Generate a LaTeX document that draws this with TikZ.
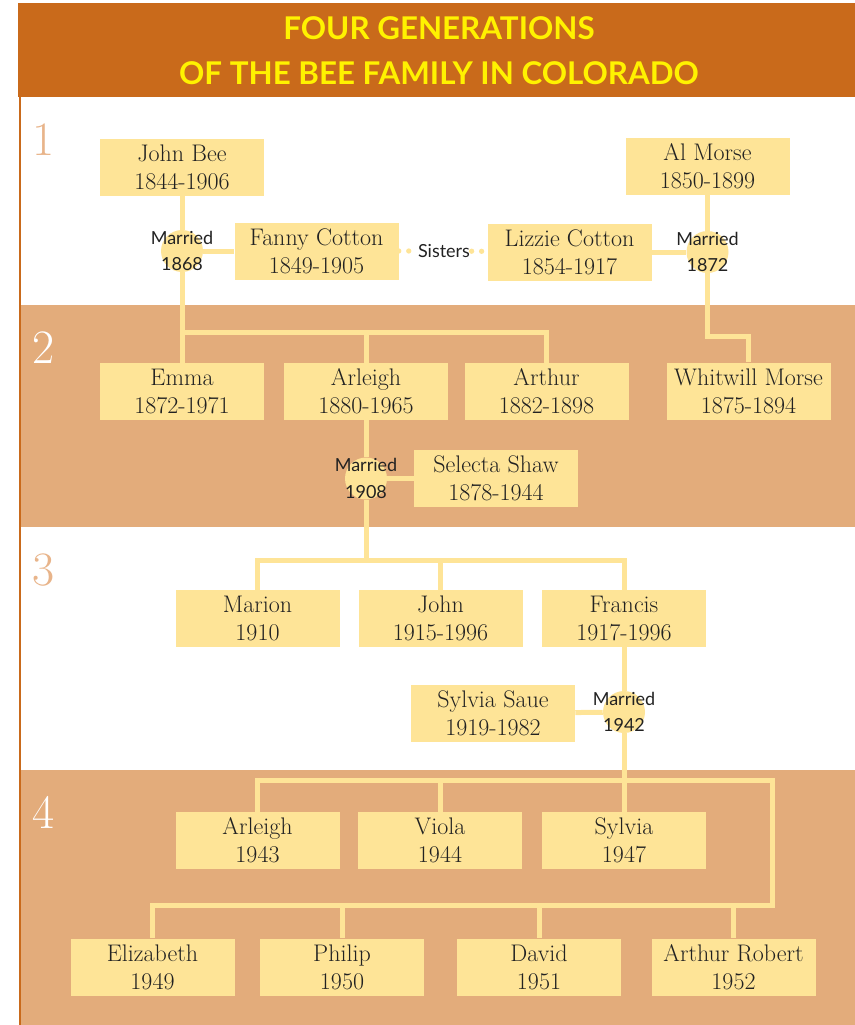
\documentclass[tikz,border=0pt]{standalone}
\usepackage{fontspec}
\newfontfamily\headfont{Lato}
\definecolor{header}{HTML}{C96A1B}
\definecolor{band}{HTML}{E3AC7B}
\definecolor{card}{HTML}{FEE497}
\definecolor{ink}{HTML}{222222}
\definecolor{gold}{HTML}{FFF200}
\definecolor{numtan}{HTML}{E8B48A}
\pgfdeclarelayer{bands}
\pgfdeclarelayer{links}
\pgfsetlayers{bands,links,main}
\tikzset{
  person/.style={fill=card, minimum width=123pt, minimum height=42.75pt, inner sep=0pt,
                 align=center, text=ink, font=\fontsize{18}{21}\selectfont},
  wed/.style={circle, fill=card, minimum size=31.5pt, inner sep=0pt},
  wedtxt/.style={align=center, text=ink, inner sep=1pt, font=\headfont\fontsize{13.5}{20}\selectfont},
  link/.style={draw=card, line width=3.75pt},
  sislink/.style={draw=card, line width=4pt, line cap=round, dash pattern=on 0pt off 7.5pt},
  gennum/.style={anchor=base west, inner sep=0pt, font=\fontsize{36}{36}\selectfont}
}

\begin{document}
\begin{tikzpicture}[x=0.75pt,y=-0.75pt]
  \useasboundingbox (0,0) rectangle (855,1025);
  \begin{pgfonlayer}{bands}
    \fill[header] (18,3) rectangle (855,97);
    \fill[band] (20,305) rectangle (855,527);
    \fill[band] (20,770) rectangle (855,1025);
    \draw[header, line width=1.5pt] (19.5,97) -- (19.5,1025);
  \end{pgfonlayer}
  \node[text=gold, align=center, font=\headfont\bfseries\fontsize{23.5}{34}\selectfont]
    (title) at (439,51) {FOUR GENERATIONS\\OF THE BEE FAMILY IN COLORADO};

  \foreach \g/\y/\col in {1/155/numtan, 2/363/white, 3/585/numtan, 4/828/white}
    \node[gennum, text=\col] (gen\g) at (32,\y) {\g};

  \foreach \n/\x/\y/\nm/\yr in {
    johnbee/182/167.5/{John Bee}/{1844-1906},
    almorse/707.5/166.5/{Al Morse}/{1850-1899},
    fanny/316.5/251/{Fanny Cotton}/{1849-1905},
    lizzie/569.5/252/{Lizzie Cotton}/{1854-1917},
    emma/182/391.5/{Emma}/{1872-1971},
    arleigh/366/391.5/{Arleigh}/{1880-1965},
    arthur/546.5/391.5/{Arthur}/{1882-1898},
    whitwill/748.5/391/{Whitwill Morse}/{1875-1894},
    selecta/496/478.5/{Selecta Shaw}/{1878-1944},
    marion/257.5/618.5/{Marion}/{1910},
    john/440.5/618.5/{John}/{1915-1996},
    francis/624/618.5/{Francis}/{1917-1996},
    sylviasaue/493/713.5/{Sylvia Saue}/{1919-1982},
    arleighjr/257.5/840.5/{Arleigh}/{1943},
    viola/440/840.5/{Viola}/{1944},
    sylvia/624/840.5/{Sylvia}/{1947},
    elizabeth/152.5/967/{Elizabeth}/{1949},
    philip/342/967/{Philip}/{1950},
    david/539/967/{David}/{1951},
    arthurrob/733.5/967/{Arthur Robert}/{1952}} {
    \node[person] (\n) at (\x,\y) {\nm\\\yr};
  }

  \foreach \n/\x/\y/\yr in {m1868/182/251/1868, m1872/707.5/252/1872,
                            m1908/366/478.5/1908, m1942/624/712/1942}
    \node[wed, label={[wedtxt]center:{Married\\\yr}}] (\n) at (\x,\y) {};

  \node[wedtxt] (sisters) at (444,251) {Sisters};

  \coordinate (g2bar) at (182,332);
  \coordinate (whitbend) at (707.5,336);
  \coordinate (g3bar) at (366,560);
  \coordinate (g4top) at (772,780);
  \coordinate (g4low) at (772,905);

  \begin{pgfonlayer}{links}
    \draw[sislink] (fanny) -- (sisters);
    \draw[sislink] (sisters) -- (lizzie);
    \draw[link] (johnbee) -- (m1868) -- (emma);
    \draw[link] (fanny) -- (m1868);
    \draw[link] (g2bar) -| (arthur);
    \draw[link] (arleigh |- g2bar) -- (arleigh);
    \draw[link] (almorse) -- (m1872);
    \draw[link] (lizzie) -- (m1872);
    \draw[link] (m1872) -- (whitbend) -| (whitwill);
    \draw[link] (arleigh) -- (m1908) -- (g3bar);
    \draw[link] (selecta) -- (m1908);
    \draw[link] (marion) |- (g3bar) -| (francis);
    \draw[link] (john |- g3bar) -- (john);
    \draw[link] (francis) -- (m1942) -- (sylvia);
    \draw[link] (sylviasaue) -- (m1942);
    \draw[link] (arleighjr) |- (g4top) -- (g4low) -| (elizabeth);
    \draw[link] (viola |- g4top) -- (viola);
    \foreach \k in {philip, david, arthurrob}
      \draw[link] (\k |- g4low) -- (\k);
  \end{pgfonlayer}
\end{tikzpicture}
\end{document}
